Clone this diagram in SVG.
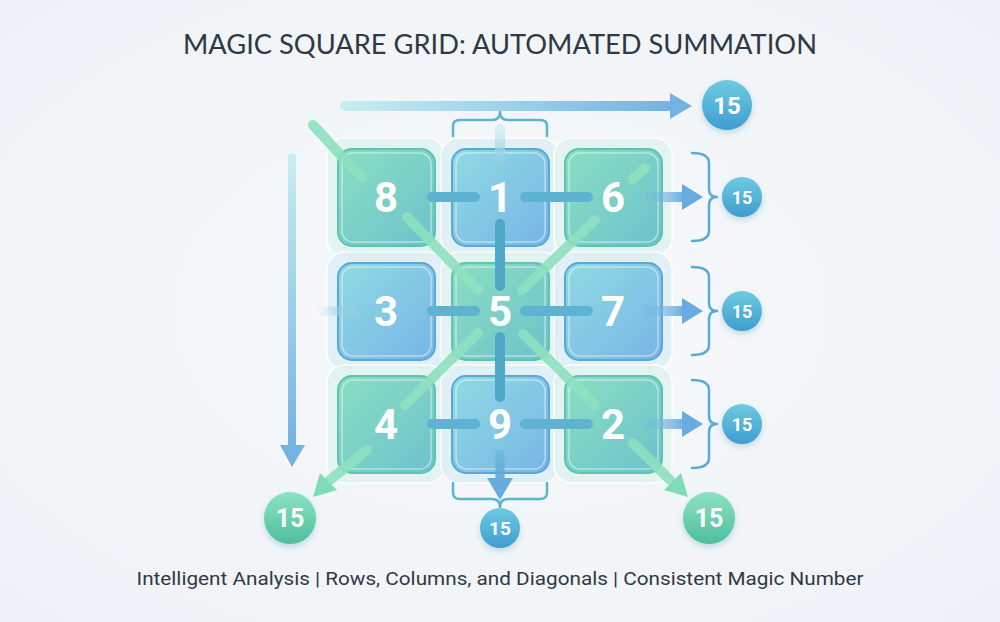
<svg xmlns="http://www.w3.org/2000/svg" width="1000" height="622" viewBox="0 0 1000 622">
<defs>
  <radialGradient id="bg" cx="0.5" cy="0.5" r="0.7">
    <stop offset="0" stop-color="#f8fafc"/>
    <stop offset="1" stop-color="#eef2f6"/>
  </radialGradient>
  <linearGradient id="gCell" x1="0" y1="0" x2="1" y2="1">
    <stop offset="0" stop-color="#8adfc2"/>
    <stop offset="1" stop-color="#6dc1cc"/>
  </linearGradient>
  <linearGradient id="bCell" x1="0" y1="0" x2="1" y2="1">
    <stop offset="0" stop-color="#8fdbe2"/>
    <stop offset="1" stop-color="#78b4e6"/>
  </linearGradient>
  <linearGradient id="bCirc" x1="0" y1="0" x2="0" y2="1">
    <stop offset="0" stop-color="#6ccbe0"/>
    <stop offset="1" stop-color="#3f9dd0"/>
  </linearGradient>
  <linearGradient id="gCirc" x1="0" y1="0" x2="0" y2="1">
    <stop offset="0" stop-color="#8be3c2"/>
    <stop offset="1" stop-color="#4fbe9c"/>
  </linearGradient>
  <linearGradient id="hGrad" x1="0" y1="0" x2="1" y2="0">
    <stop offset="0" stop-color="#c8eef0"/>
    <stop offset="1" stop-color="#74b2e2"/>
  </linearGradient>
  <linearGradient id="vGrad" x1="0" y1="0" x2="0" y2="1">
    <stop offset="0" stop-color="#c8eef0"/>
    <stop offset="1" stop-color="#74b2e2"/>
  </linearGradient>
  <linearGradient id="rightArrow" x1="0" y1="0" x2="1" y2="0">
    <stop offset="0" stop-color="#7ab8e2" stop-opacity="0.25"/>
    <stop offset="1" stop-color="#68acdf"/>
  </linearGradient>
  <linearGradient id="fadeL" x1="0" y1="0" x2="1" y2="0">
    <stop offset="0" stop-color="#a8daea" stop-opacity="0"/>
    <stop offset="1" stop-color="#8fcbe4"/>
  </linearGradient>
  <linearGradient id="fadeUp" x1="0" y1="0" x2="0" y2="1">
    <stop offset="0" stop-color="#b8e2ee" stop-opacity="0.3"/>
    <stop offset="1" stop-color="#8ccbe0"/>
  </linearGradient>
  <linearGradient id="fadeDown" x1="0" y1="0" x2="0" y2="1">
    <stop offset="0" stop-color="#5aa8d8" stop-opacity="0.3"/>
    <stop offset="1" stop-color="#5aa8d8"/>
  </linearGradient>
  <filter id="sh" x="-30%" y="-30%" width="160%" height="160%">
    <feDropShadow dx="0" dy="3" stdDeviation="3" flood-color="#4a90b0" flood-opacity="0.3"/>
  </filter>
  <style>
    .halo-g { fill: #e0f3ef; stroke: #ffffff; stroke-width: 1.5; opacity: 0.85; }
    .halo-b { fill: #ddeff5; stroke: #ffffff; stroke-width: 1.5; opacity: 0.85; }
    .cell-g { fill: url(#gCell); stroke: #5fc2b2; stroke-width: 2; }
    .cell-b { fill: url(#bCell); stroke: #5aa8d8; stroke-width: 2; }
    .inner { fill: none; stroke: #ffffff; stroke-opacity: 0.45; stroke-width: 1.5; }
    .num { font-family: Roboto, "Open Sans", "Liberation Sans", sans-serif; font-weight: 700; font-size: 42px; fill: #ffffff; text-anchor: middle; }
    .cnum { font-family: Roboto, "Open Sans", "Liberation Sans", sans-serif; font-weight: 700; fill: #ffffff; text-anchor: middle; }
    .bar { stroke: #5fb2d2; stroke-width: 10; stroke-linecap: round; fill: none; }
    .vbar { stroke: #4fa8c8; stroke-width: 10; stroke-linecap: round; fill: none; }
    .diag { stroke: #8ee0c0; stroke-width: 10; stroke-linecap: round; fill: none; opacity: 0.9; }
    .brace { fill: none; stroke: #5aaad6; stroke-width: 2.5; stroke-linecap: round; stroke-linejoin: round; }
    .brace-t { fill: none; stroke: #5ab6c8; stroke-width: 2.5; stroke-linecap: round; stroke-linejoin: round; }
    .rhead { fill: #68acdf; }
    .ghead { fill: #7edcb6; }
  </style>
</defs>

<rect x="0" y="0" width="1000" height="622" fill="url(#bg)"/>

<text x="500" y="54" text-anchor="middle" font-family="Lato, 'Open Sans', 'Liberation Sans', sans-serif" font-size="26" fill="#2d3944" textLength="634" lengthAdjust="spacingAndGlyphs">MAGIC SQUARE GRID: AUTOMATED SUMMATION</text>

<g id="halos">
  <rect class="halo-g" x="327" y="138" width="118" height="118" rx="18"/>
  <rect class="halo-b" x="441" y="138" width="118" height="118" rx="18"/>
  <rect class="halo-g" x="554" y="138" width="118" height="118" rx="18"/>
  <rect class="halo-b" x="327" y="252" width="118" height="118" rx="18"/>
  <rect class="halo-g" x="441" y="252" width="118" height="118" rx="18"/>
  <rect class="halo-b" x="554" y="252" width="118" height="118" rx="18"/>
  <rect class="halo-g" x="327" y="365" width="118" height="118" rx="18"/>
  <rect class="halo-b" x="441" y="365" width="118" height="118" rx="18"/>
  <rect class="halo-g" x="554" y="365" width="118" height="118" rx="18"/>
</g>

<g id="cell-8"><rect class="cell-g" x="338" y="149" width="97" height="97" rx="14"/><rect class="inner" x="342" y="153" width="89" height="89" rx="11"/></g>
<g id="cell-1"><rect class="cell-b" x="452" y="149" width="97" height="97" rx="14"/><rect class="inner" x="456" y="153" width="89" height="89" rx="11"/></g>
<g id="cell-6"><rect class="cell-g" x="565" y="149" width="97" height="97" rx="14"/><rect class="inner" x="569" y="153" width="89" height="89" rx="11"/></g>
<g id="cell-3"><rect class="cell-b" x="338" y="263" width="97" height="97" rx="14"/><rect class="inner" x="342" y="267" width="89" height="89" rx="11"/></g>
<g id="cell-5"><rect class="cell-g" x="452" y="263" width="97" height="97" rx="14"/><rect class="inner" x="456" y="267" width="89" height="89" rx="11"/></g>
<g id="cell-7"><rect class="cell-b" x="565" y="263" width="97" height="97" rx="14"/><rect class="inner" x="569" y="267" width="89" height="89" rx="11"/></g>
<g id="cell-4"><rect class="cell-g" x="338" y="376" width="97" height="97" rx="14"/><rect class="inner" x="342" y="380" width="89" height="89" rx="11"/></g>
<g id="cell-9"><rect class="cell-b" x="452" y="376" width="97" height="97" rx="14"/><rect class="inner" x="456" y="380" width="89" height="89" rx="11"/></g>
<g id="cell-2"><rect class="cell-g" x="565" y="376" width="97" height="97" rx="14"/><rect class="inner" x="569" y="380" width="89" height="89" rx="11"/></g>

<g id="connectors">
  <line class="diag" x1="313" y1="125" x2="362" y2="178" opacity="0.8"/>
  <line class="diag" x1="407" y1="217" x2="478" y2="290"/>
  <line class="diag" x1="523" y1="334" x2="595" y2="405"/>
  <line class="diag" x1="633" y1="443" x2="670" y2="480"/>
  <polygon class="ghead" points="688,497 664,490 681,473"/>
  <line class="diag" x1="633" y1="179" x2="645" y2="168" stroke-width="5" opacity="0.35"/>
  <line class="diag" x1="595" y1="220" x2="522" y2="290"/>
  <line class="diag" x1="478" y1="333" x2="405" y2="405"/>
  <line class="diag" x1="367" y1="450" x2="330" y2="480"/>
  <polygon class="ghead" points="313,497 337,490 320,473"/>
  <line class="bar" x1="432" y1="197" x2="475" y2="197"/>
  <line class="bar" x1="525" y1="197" x2="588" y2="197"/>
  <line class="bar" x1="432" y1="311" x2="475" y2="311"/>
  <line class="bar" x1="525" y1="311" x2="588" y2="311"/>
  <line class="bar" x1="432" y1="424" x2="475" y2="424"/>
  <line class="bar" x1="525" y1="424" x2="588" y2="424"/>
  <rect x="316" y="306.5" width="42" height="9" fill="url(#fadeL)"/>
  <rect x="495" y="124" width="10" height="44" rx="5" fill="url(#fadeUp)"/>
  <line class="vbar" x1="500" y1="224" x2="500" y2="286"/>
  <line class="vbar" x1="500" y1="337" x2="500" y2="397"/>
  <rect x="495.5" y="450" width="9" height="32" fill="url(#fadeDown)"/>
  <polygon class="rhead" points="487,478 513,478 500,500"/>
  <rect x="645" y="192" width="40" height="10" fill="url(#rightArrow)"/>
  <polygon class="rhead" points="682,184 703,197 682,210"/>
  <rect x="645" y="306" width="40" height="10" fill="url(#rightArrow)"/>
  <polygon class="rhead" points="682,298 703,311 682,324"/>
  <rect x="645" y="419" width="40" height="10" fill="url(#rightArrow)"/>
  <polygon class="rhead" points="682,411 703,424 682,437"/>
  <rect x="340" y="101" width="333" height="10" rx="5" fill="url(#hGrad)"/>
  <polygon fill="#74b2e2" points="670,93 692,106 670,119"/>
  <rect x="288" y="153" width="8" height="296" rx="4" fill="url(#vGrad)"/>
  <polygon fill="#74b2e2" points="280,445 305,445 292,467"/>
  <path class="brace" d="M692,153 Q709,153 709,163 L709,189 Q709,197 717,197 Q709,197 709,205 L709,231 Q709,241 692,241"/>
  <path class="brace" d="M692,267 Q709,267 709,277 L709,303 Q709,311 717,311 Q709,311 709,319 L709,345 Q709,355 692,355"/>
  <path class="brace" d="M692,380 Q709,380 709,390 L709,416 Q709,424 717,424 Q709,424 709,432 L709,458 Q709,468 692,468"/>
  <path class="brace-t" d="M453,136 L453,126 Q453,120 460,120 L492,120 Q500,120 500,112 Q500,120 508,120 L540,120 Q547,120 547,126 L547,136"/>
  <path class="brace-t" d="M453,483 L453,493 Q453,499 460,499 L492,499 Q500,499 500,507 Q500,499 508,499 L540,499 Q547,499 547,493 L547,483"/>
</g>

<g id="num-8"><text class="num" x="386" y="212">8</text></g>
<g id="num-1"><text class="num" x="500" y="212">1</text></g>
<g id="num-6"><text class="num" x="613" y="212">6</text></g>
<g id="num-3"><text class="num" x="386" y="326">3</text></g>
<g id="num-5"><text class="num" x="500" y="326">5</text></g>
<g id="num-7"><text class="num" x="613" y="326">7</text></g>
<g id="num-4"><text class="num" x="386" y="439">4</text></g>
<g id="num-9"><text class="num" x="500" y="439">9</text></g>
<g id="num-2"><text class="num" x="613" y="439">2</text></g>

<g id="sum-top"><circle cx="727" cy="105" r="25" fill="url(#bCirc)" filter="url(#sh)"/><text class="cnum" x="727" y="114" font-size="24">15</text></g>
<g id="sum-row1"><circle cx="742" cy="197" r="20" fill="url(#bCirc)" filter="url(#sh)"/><text class="cnum" x="742" y="204" font-size="18">15</text></g>
<g id="sum-row2"><circle cx="742" cy="311" r="20" fill="url(#bCirc)" filter="url(#sh)"/><text class="cnum" x="742" y="318" font-size="18">15</text></g>
<g id="sum-row3"><circle cx="742" cy="424" r="20" fill="url(#bCirc)" filter="url(#sh)"/><text class="cnum" x="742" y="431" font-size="18">15</text></g>
<g id="sum-diag-left"><circle cx="290" cy="518" r="26" fill="url(#gCirc)" filter="url(#sh)"/><text class="cnum" x="290" y="527" font-size="25">15</text></g>
<g id="sum-diag-right"><circle cx="709" cy="518" r="26" fill="url(#gCirc)" filter="url(#sh)"/><text class="cnum" x="709" y="527" font-size="25">15</text></g>
<g id="sum-col2"><circle cx="500" cy="528" r="20" fill="url(#bCirc)" filter="url(#sh)"/><text class="cnum" x="500" y="535" font-size="19">15</text></g>

<text x="500" y="585" text-anchor="middle" font-family="Roboto, 'Liberation Sans', sans-serif" font-size="19" fill="#2f3a44" textLength="727" lengthAdjust="spacingAndGlyphs">Intelligent Analysis | Rows, Columns, and Diagonals | Consistent Magic Number</text>
</svg>
